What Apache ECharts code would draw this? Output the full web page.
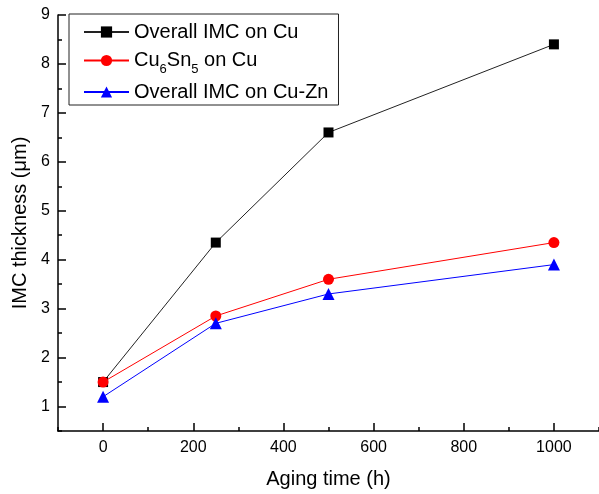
<!DOCTYPE html>
<html>
<head>
<meta charset="utf-8">
<script src="https://cdn.jsdelivr.net/npm/echarts@6/dist/echarts.min.js"></script>
<style>
  html, body { margin: 0; padding: 0; background: #fff; }
  #chart { width: 599px; height: 494px; }
</style>
</head>
<body>
<div id="chart"></div>
<script>
// aging time (h) and thickness (um)
const agingTime = [0, 250, 500, 1000]
const imcOnCu = [1.5, 4.35, 6.6, 8.4]
const cu6sn5OnCu = [1.5, 2.85, 3.6, 4.35]
const imcOnCuZn = [1.2, 2.7, 3.3, 3.9]
const xLabels = [0, 200, 400, 600, 800, 1000]
const yLabels = [1, 2, 3, 4, 5, 6, 7, 8, 9]

const font = 'Liberation Sans, Arial, sans-serif'

function pairs (ys) {
  return agingTime.map((x, i) => [x, ys[i]])
}

const chart = echarts.init(document.getElementById('chart'))

const xBase = { type: 'value', min: -100, max: 1100, interval: 100, splitLine: { show: false } }
const yBase = { type: 'value', min: 0.5, max: 9, interval: 0.5, splitLine: { show: false } }

const option = {
  animation: false,
  textStyle: { fontFamily: font },
  grid: { left: 58, right: 0, top: 15, bottom: 62.5, containLabel: false },
  legend: {
    orient: 'vertical',
    left: 69,
    top: 14,
    padding: [6, 10, 1, 14],
    itemGap: 4.5,
    itemWidth: 45,
    itemHeight: 14,
    backgroundColor: '#fff',
    borderColor: '#222',
    borderWidth: 1,
    borderRadius: 0,
    textStyle: {
      fontFamily: font,
      fontSize: 20,
      color: '#000',
      lineHeight: 24,
      rich: {
        n: { fontFamily: font, fontSize: 20, color: '#000', lineHeight: 24 },
        s: { fontFamily: font, fontSize: 13, color: '#000', padding: [17, 0, 0, 0] }
      }
    },
    formatter: function (name) {
      if (name === 'Cu6Sn5 on Cu') return '{n|Cu}{s|6}{n|Sn}{s|5}{n| on Cu}'
      return name
    },
    data: ['Overall IMC on Cu', 'Cu6Sn5 on Cu', 'Overall IMC on Cu-Zn']
  },
  xAxis: [
    Object.assign({}, xBase, {
      name: 'Aging time (h)',
      nameLocation: 'middle',
      nameGap: 38,
      nameTextStyle: { fontFamily: font, fontSize: 20, color: '#000' },
      axisLine: { show: true, onZero: false, lineStyle: { color: '#000', width: 1.5 } },
      axisTick: { show: true, inside: true, length: 4, lineStyle: { color: '#000', width: 1.5 } },
      axisLabel: {
        fontFamily: font, fontSize: 16, color: '#000', margin: 9,
        customValues: xLabels,
        formatter: function (v) { return String(v) }
      }
    }),
    Object.assign({}, xBase, {
      position: 'bottom',
      axisLine: { show: false, onZero: false },
      axisTick: { show: true, inside: true, length: 8, customValues: xLabels, lineStyle: { color: '#000', width: 1.5 } },
      axisLabel: { show: false }
    })
  ],
  yAxis: [
    Object.assign({}, yBase, {
      name: 'IMC thickness (\u03bcm)',
      nameLocation: 'middle',
      nameGap: 25,
      nameTextStyle: { fontFamily: font, fontSize: 20, color: '#000' },
      axisLine: { show: true, onZero: false, lineStyle: { color: '#000', width: 1.5 } },
      axisTick: { show: true, inside: true, length: 4, lineStyle: { color: '#000', width: 1.5 } },
      axisLabel: {
        fontFamily: font, fontSize: 16, color: '#000', margin: 8,
        customValues: yLabels,
        formatter: function (v) { return String(v) }
      }
    }),
    Object.assign({}, yBase, {
      position: 'left',
      axisLine: { show: false, onZero: false },
      axisTick: { show: true, inside: true, length: 8, customValues: yLabels, lineStyle: { color: '#000', width: 1.5 } },
      axisLabel: { show: false }
    })
  ],
  series: [
    {
      name: 'Overall IMC on Cu',
      type: 'line',
      symbol: 'rect',
      symbolSize: 10,
      color: '#000',
      lineStyle: { color: '#222', width: 1 },
      itemStyle: { color: '#000' },
      data: pairs(imcOnCu)
    },
    {
      name: 'Cu6Sn5 on Cu',
      type: 'line',
      symbol: 'circle',
      symbolSize: 11,
      color: '#ff0000',
      lineStyle: { color: '#ff0000', width: 1 },
      itemStyle: { color: '#ff0000' },
      data: pairs(cu6sn5OnCu)
    },
    {
      name: 'Overall IMC on Cu-Zn',
      type: 'line',
      symbol: 'triangle',
      symbolSize: 12,
      color: '#0000ff',
      lineStyle: { color: '#0000ff', width: 1 },
      itemStyle: { color: '#0000ff' },
      data: pairs(imcOnCuZn)
    }
  ]
}

chart.setOption(option)
</script>
</body>
</html>
